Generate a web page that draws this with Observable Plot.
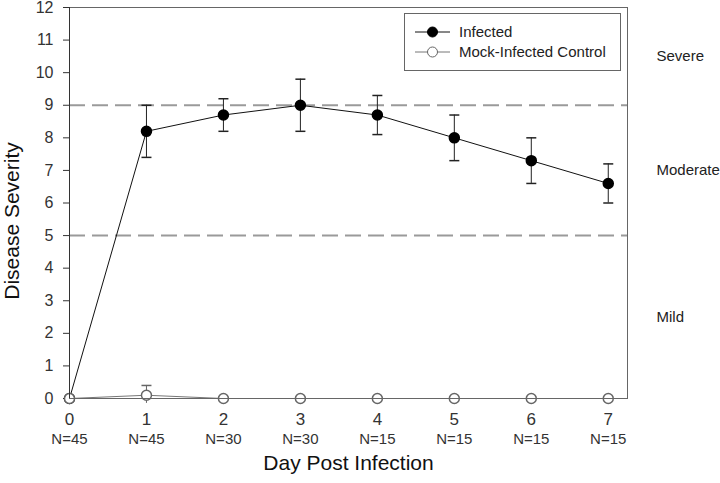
<!DOCTYPE html>
<html>
<head>
<meta charset="utf-8">
<script src="https://cdn.jsdelivr.net/npm/d3@7"></script>
<script src="https://cdn.jsdelivr.net/npm/@observablehq/plot@0.6"></script>
<style>
  body { margin: 0; background: #fff; }
  #wrap { position: relative; width: 720px; height: 483px; font-family: "Liberation Sans", Arial, sans-serif; }
  #legend { position: absolute; left: 404px; top: 13px; width: 217px; height: 58px; border: 1px solid #666; background: #fff; box-sizing: border-box; }
</style>
</head>
<body>
<div id="wrap"></div>
<script>
const days = [0, 1, 2, 3, 4, 5, 6, 7];
const nLabels = ["N=45", "N=45", "N=30", "N=30", "N=15", "N=15", "N=15", "N=15"];
const infectedMean = [0, 8.2, 8.7, 9.0, 8.7, 8.0, 7.3, 6.6];
const infectedLow  = [0, 7.4, 8.2, 8.2, 8.1, 7.3, 6.6, 6.0];
const infectedHigh = [0, 9.0, 9.2, 9.8, 9.3, 8.7, 8.0, 7.2];
const mockMean = [0, 0.1, 0, 0, 0, 0, 0, 0];
const mockLow  = [0, -0.15, 0, 0, 0, 0, 0, 0];
const mockHigh = [0, 0.4, 0, 0, 0, 0, 0, 0];
const thresholds = [5, 9];
const zones = [
  {label: "Severe", lo: 9, hi: 12},
  {label: "Moderate", lo: 5, hi: 9},
  {label: "Mild", lo: 0, hi: 5}
];
const yTicks = d3.range(0, 13);
const seriesNames = ["Infected", "Mock-Infected Control"];
const xTitle = "Day Post Infection";
const yTitle = "Disease Severity";

const infected = days.map((d, i) => ({day: d, mean: infectedMean[i], lo: infectedLow[i], hi: infectedHigh[i]}));
const mock = days.map((d, i) => ({day: d, mean: mockMean[i], lo: mockLow[i], hi: mockHigh[i]}));
const infErr = infected.filter(d => d.hi !== d.lo);
const mockErr = mock.filter(d => d.hi !== d.lo);

const cap = {draw(ctx, size) { const w = Math.sqrt(size / Math.PI); ctx.moveTo(-w, 0); ctx.lineTo(w, 0); }};
const font = "Liberation Sans, Arial, sans-serif";

const chart = Plot.plot({
  width: 720, height: 483,
  marginLeft: 69, marginRight: 93, marginTop: 7, marginBottom: 85,
  style: {fontFamily: font, color: "#333", background: "#fff", fontSize: "16px"},
  x: {domain: [0, 7.25], axis: null},
  y: {domain: [0, 12], ticks: yTicks, tickSize: 6, tickPadding: 10, label: null, tickFormat: d => String(d)},
  marks: [
    Plot.ruleY(thresholds, {stroke: "#9a9a9a", strokeWidth: 2, strokeDasharray: "16,7"}),
    Plot.line(mock, {x: "day", y: "mean", stroke: "#777", strokeWidth: 1}),
    Plot.ruleX(mockErr, {x: "day", y1: "lo", y2: "hi", stroke: "#666"}),
    Plot.dot(mockErr.filter(d => d.hi > 0), {x: "day", y: "hi", symbol: cap, r: 5, stroke: "#666", fill: "none"}),
    Plot.line(infected, {x: "day", y: "mean", stroke: "#111", strokeWidth: 1}),
    Plot.ruleX(infErr, {x: "day", y1: "lo", y2: "hi", stroke: "#222"}),
    Plot.dot(infErr, {x: "day", y: "hi", symbol: cap, r: 5, stroke: "#222", fill: "none"}),
    Plot.dot(infErr, {x: "day", y: "lo", symbol: cap, r: 5, stroke: "#222", fill: "none"}),
    Plot.dot(infected, {x: "day", y: "mean", r: 5, fill: "#000", stroke: "#000"}),
    Plot.dot(mock, {x: "day", y: "mean", r: 5, fill: "#fff", stroke: "#666"}),
    Plot.frame({stroke: "#666"}),
    Plot.ruleX([0], {stroke: "#333"}),
    Plot.text(days, {x: d => d, text: d => String(d), frameAnchor: "bottom", dy: 26, fontSize: 17, fill: "#333"}),
    Plot.text(days, {x: d => d, text: (d, i) => nLabels[i], frameAnchor: "bottom", dy: 45, fontSize: 15, fill: "#333"}),
    Plot.text(zones, {y: d => (d.lo + d.hi) / 2, text: "label", frameAnchor: "right", dx: 29, textAnchor: "start", fontSize: 15, fill: "#222"}),
    Plot.text([xTitle], {text: d => d, frameAnchor: "bottom", dy: 71, fontSize: 21, fill: "#111"})
  ]
});

const wrap = document.getElementById("wrap");
wrap.appendChild(chart);

// Rotated y-axis title, added to the Plot SVG as real text
d3.select(chart).append("text")
  .attr("transform", "translate(12,221) rotate(-90)")
  .attr("text-anchor", "middle")
  .attr("dy", "0.35em")
  .attr("font-size", 21)
  .attr("font-family", font)
  .attr("fill", "#111")
  .text(yTitle);

// Legend
const leg = document.createElement("div");
leg.id = "legend";
wrap.appendChild(leg);
const ls = d3.select(leg).append("svg").attr("width", 215).attr("height", 56);
seriesNames.forEach((name, i) => {
  const y = 18 + i * 20;
  const g = ls.append("g");
  g.append("line").attr("x1", 10).attr("x2", 45).attr("y1", y).attr("y2", y).attr("stroke", i === 0 ? "#111" : "#777");
  g.append("circle").attr("cx", 27.5).attr("cy", y).attr("r", 5).attr("fill", i === 0 ? "#000" : "#fff").attr("stroke", i === 0 ? "#000" : "#666");
  g.append("text").attr("x", 54).attr("y", y).attr("dy", "0.35em").attr("font-size", 15).attr("fill", "#222").attr("font-family", font).text(name);
});
</script>
</body>
</html>
